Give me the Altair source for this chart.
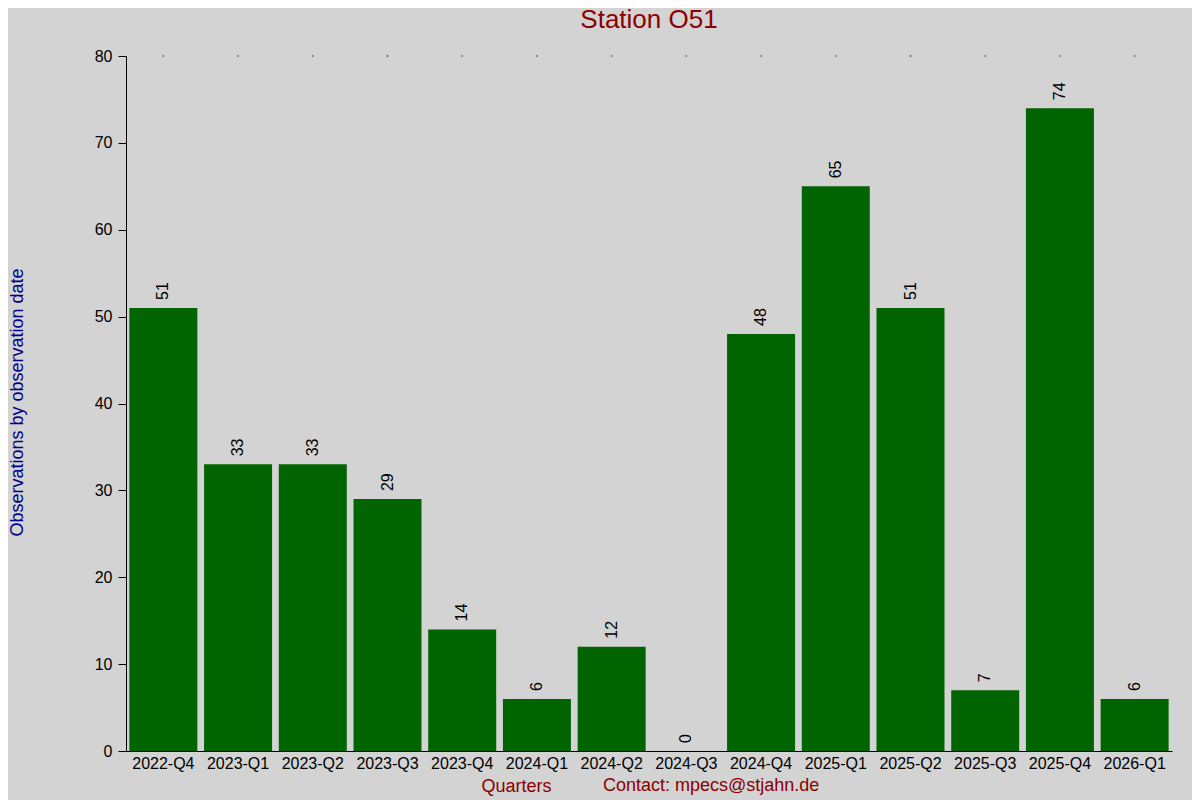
import altair as alt
import pandas as pd

quarters = ["2022-Q4", "2023-Q1", "2023-Q2", "2023-Q3", "2023-Q4", "2024-Q1", "2024-Q2",
            "2024-Q3", "2024-Q4", "2025-Q1", "2025-Q2", "2025-Q3", "2025-Q4", "2026-Q1"]
counts = [51, 33, 33, 29, 14, 6, 12, 0, 48, 65, 51, 7, 74, 6]
y_top = [80] * len(quarters)

title_text = "Station O51"
y_title = "Observations by observation date"
x_title = "Quarters"
contact = "Contact: mpecs@stjahn.de"

df = pd.DataFrame({"q": quarters, "n": counts, "top": y_top})
FONT = "Liberation Sans, Arial, sans-serif"

xscale = alt.Scale(domain=quarters, paddingInner=0.09, paddingOuter=0.045)
yscale = alt.Scale(domain=[0, 80], nice=False)

base = alt.Chart(df)

bars = base.mark_bar(color="#006400").encode(
    x=alt.X("q:N", sort=quarters, scale=xscale,
            axis=alt.Axis(title=x_title, labelAngle=0, ticks=False, labelPadding=4,
                          labelFontSize=16, labelColor="black", labelFont=FONT,
                          titleFont=FONT, titleFontSize=18, titleColor="#8b0000",
                          titleFontWeight="normal", titleX=390, titleY=40,
                          titleAlign="center", titleBaseline="alphabetic",
                          domainColor="black", grid=False)),
    y=alt.Y("n:Q", scale=yscale,
            axis=alt.Axis(title=y_title, values=list(range(0, 81, 10)), tickSize=8,
                          tickColor="black", domainColor="black", labelPadding=6,
                          labelFontSize=16, labelColor="black", labelFont=FONT,
                          titleFont=FONT, titleFontSize=18, titleColor="#00008b",
                          titleFontWeight="normal", titleAngle=-90, titleX=-109,
                          titleY=346, titleAlign="center", titleBaseline="middle",
                          grid=False)),
)

labels = base.mark_text(angle=270, align="left", baseline="middle", dx=8,
                        fontSize=16, font=FONT, color="black").encode(
    x=alt.X("q:N", sort=quarters, scale=xscale),
    y=alt.Y("n:Q", scale=yscale),
    text="n:Q",
)

dots = base.mark_square(size=1.5, color="black", opacity=1).encode(
    x=alt.X("q:N", sort=quarters, scale=xscale),
    y=alt.Y("top:Q", scale=yscale),
)

footer = alt.Chart(pd.DataFrame({"t": [contact]})).mark_text(
    align="left", baseline="alphabetic", fontSize=18, font=FONT, color="#8b0000"
).encode(x=alt.value(477), y=alt.value(735), text="t:N")

title_mark = alt.Chart(pd.DataFrame({"t": [title_text]})).mark_text(
    align="center", baseline="alphabetic", fontSize=26, font=FONT, color="#8b0000"
).encode(x=alt.value(523), y=alt.value(-28), text="t:N")

chart = alt.layer(bars, labels, dots, footer, title_mark).properties(
    width=1046, height=695,
    autosize=alt.AutoSizeParams(type="none"),
    padding={"left": 118, "top": 48, "right": 20, "bottom": 49},
).configure(background="#d3d3d3").configure_view(stroke=None)

chart.save("out.html", embed_options={"renderer": "svg", "actions": False})
